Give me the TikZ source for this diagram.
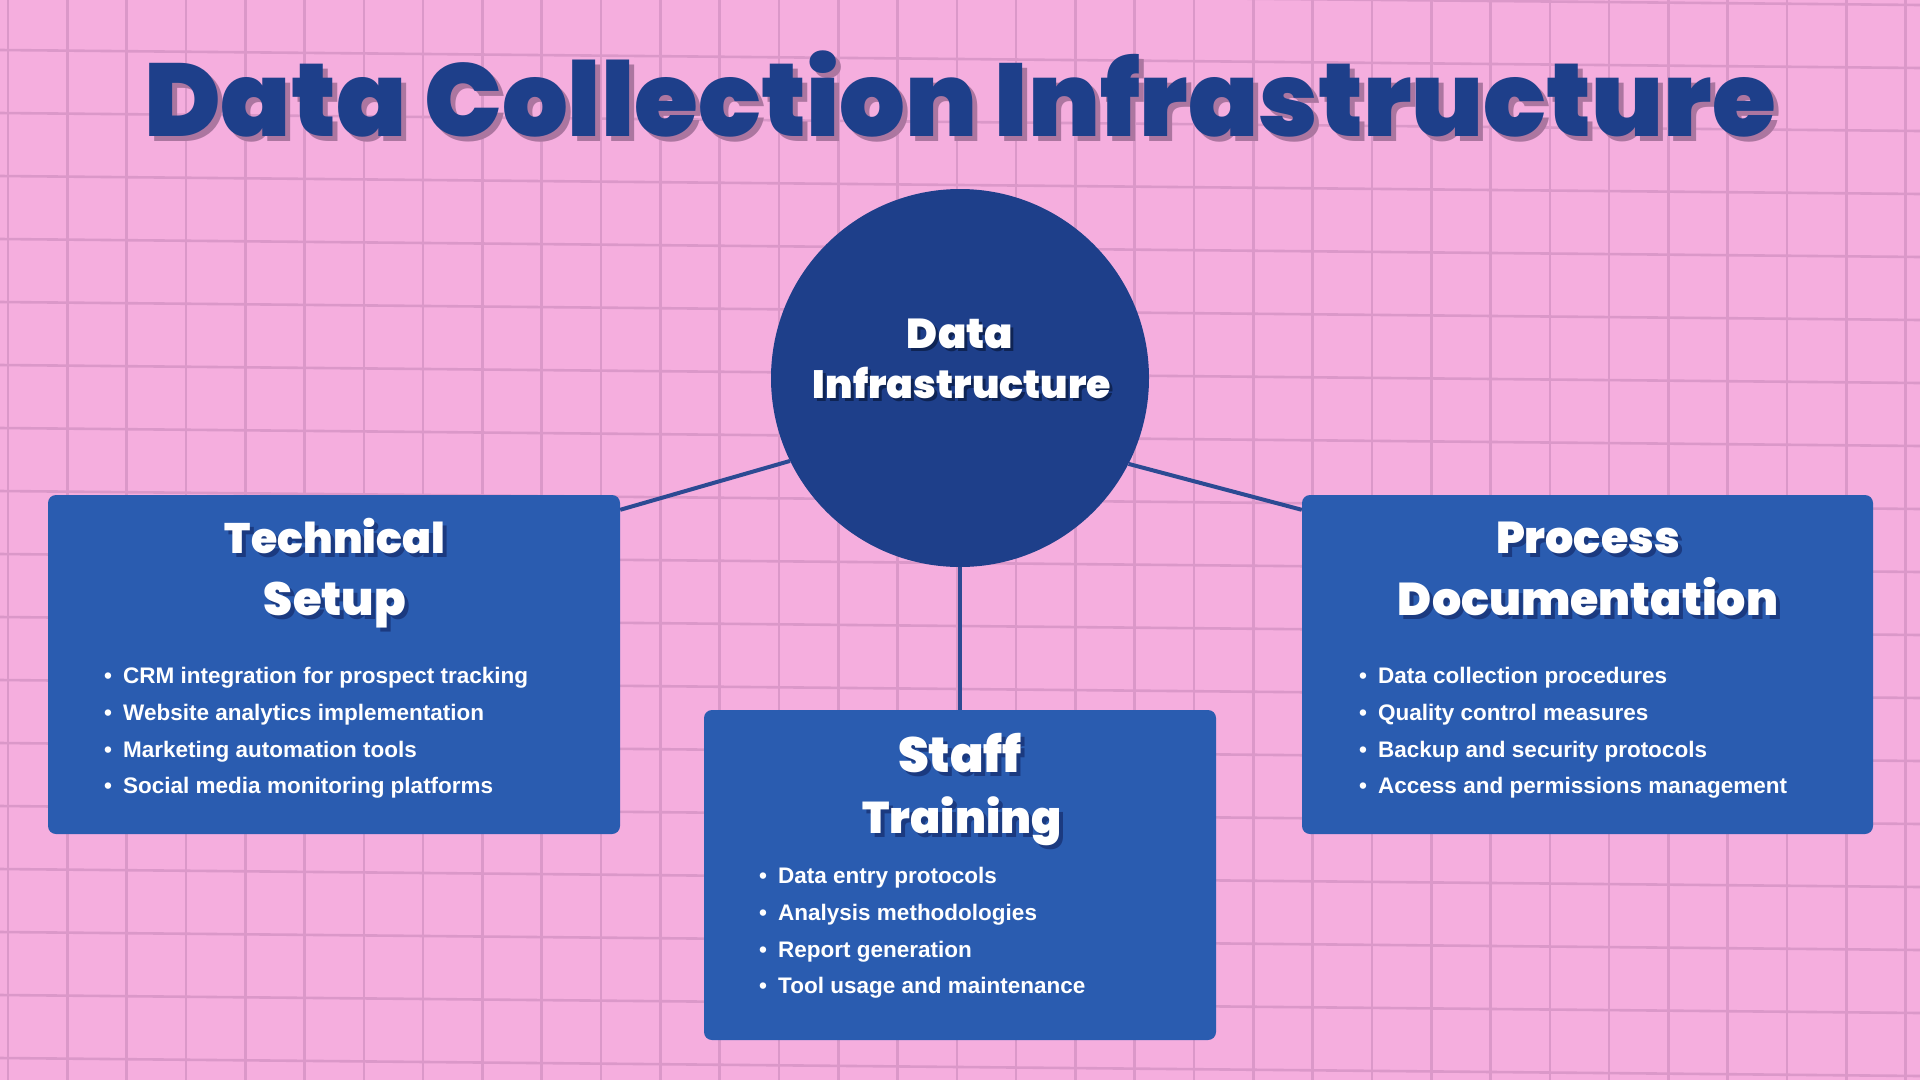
\documentclass[tikz,border=0pt]{standalone}
\usepackage{fontspec}
\usepackage{graphicx}
\usetikzlibrary{calc}
\IfFontExistsTF{Poppins Black}{\newfontfamily\hfont{Poppins Black}}{%
  \IfFontExistsTF{Poppins ExtraBold}{\newfontfamily\hfont{Poppins ExtraBold}}{%
    \IfFontExistsTF{Poppins Bold}{\newfontfamily\hfont{Poppins Bold}}{%
      \newfontfamily\hfont{DejaVu Sans Bold}}}}
\newfontfamily\bodyfont{Liberation Sans}
\definecolor{bgpink}{HTML}{F5AEDE}
\definecolor{gridpink}{HTML}{DB98C9}
\definecolor{navy}{HTML}{1E3F8A}
\definecolor{boxblue}{HTML}{2A5CB0}
\definecolor{linkblue}{HTML}{2C4A93}
\definecolor{ttlshadow}{HTML}{AC76A0}
\definecolor{hdshadow}{HTML}{1B3A80}
\definecolor{hubshadow}{HTML}{0F2454}
\tikzset{
  gridline/.style={draw=gridpink, line width=2.6pt},
  panel/.style={fill=boxblue, rounded corners=8pt, inner sep=0pt},
  hub/.style={circle, fill=navy, inner sep=0pt, minimum size=378pt},
  hd/.style={anchor=base, inner sep=0pt, font=\hfont},
  bl/.style={anchor=base west, inner sep=0pt, text=white,
    font=\bodyfont\bfseries\fontsize{22.5}{27}\selectfont},
  conn/.style={draw=linkblue, line width=4pt}
}
% heading with drop shadow: name, x, y, width, text, shadow colour, offset
\newcommand\shadowhead[7]{%
  \node[hd, text=#6] (#1s) at ({#2+#7},{#3+#7}) {\resizebox{#4pt}{!}{#5}};
  \node[hd, text=white] (#1) at (#2,#3) {\resizebox{#4pt}{!}{#5}};}
\newcommand\bitem[4]{%
  \node[bl] (#1) at (#2,#3) {\makebox[19pt][l]{\textbullet}#4};}
\begin{document}
\begin{tikzpicture}[x=1pt,y=-1pt]
\fill[bgpink] (0,0) rectangle (1920,1080);
\useasboundingbox (0,0) rectangle (1920,1080);
\begin{scope}
\clip (0,0) rectangle (1920,1080);
\foreach \i in {0,...,32} \draw[gridline] ({8+59.3*\i},0) -- ({8+59.3*\i},1080);
\foreach \i in {-1,...,17} \draw[gridline] (0,{50+63*\i}) -- (1920,{68+63*\i});
\end{scope}

% title
\node[hd, text=ttlshadow] (titles) at (965,141) {\resizebox{1631pt}{!}{Data Collection Infrastructure}};
\node[hd, text=navy] (title) at (960,136) {\resizebox{1631pt}{!}{Data Collection Infrastructure}};

% hub and panels
\node[hub] (core) at (960,378) {};
\node[panel, minimum width=572pt, minimum height=339pt] (tech) at (334,664.5) {};
\node[panel, minimum width=571pt, minimum height=339pt] (proc) at (1587.5,664.5) {};
\node[panel, minimum width=512pt, minimum height=330pt] (staff) at (960,875) {};

% connectors
\draw[conn] (core.206.3) -- ($(tech.north east)+(0,15)$);
\draw[conn] (core.333.7) -- ($(proc.north west)+(0,15)$);
\draw[conn] (core.south) -- (staff.north);

% hub text
\shadowhead{hubA}{960}{348}{106}{Data}{hubshadow}{3}
\shadowhead{hubB}{962}{398}{298}{Infrastructure}{hubshadow}{3}

% panel headings
\shadowhead{techA}{335}{553}{220}{Technical}{hdshadow}{4}
\shadowhead{techB}{335}{615}{142}{Setup}{hdshadow}{4}
\shadowhead{procA}{1588}{553}{184}{Process}{hdshadow}{4}
\shadowhead{procB}{1588}{615}{380}{Documentation}{hdshadow}{4}
\shadowhead{staffA}{960}{772}{124}{Staff}{hdshadow}{4}
\shadowhead{staffB}{962}{833}{199}{Training}{hdshadow}{4}

% bullets
\bitem{t1}{104}{683}{CRM integration for prospect tracking}
\bitem{t2}{104}{720}{Website analytics implementation}
\bitem{t3}{104}{757}{Marketing automation tools}
\bitem{t4}{104}{793}{Social media monitoring platforms}
\bitem{s1}{759}{883}{Data entry protocols}
\bitem{s2}{759}{920}{Analysis methodologies}
\bitem{s3}{759}{957}{Report generation}
\bitem{s4}{759}{993}{Tool usage and maintenance}
\bitem{p1}{1359}{683}{Data collection procedures}
\bitem{p2}{1359}{720}{Quality control measures}
\bitem{p3}{1359}{757}{Backup and security protocols}
\bitem{p4}{1359}{793}{Access and permissions management}
\end{tikzpicture}
\end{document}
